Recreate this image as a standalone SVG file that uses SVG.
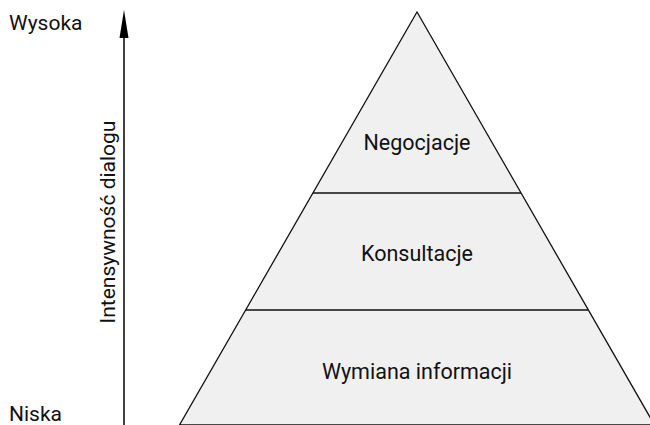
<svg xmlns="http://www.w3.org/2000/svg" width="650" height="425" viewBox="0 0 650 425">
<style>
text{font-family:Roboto,"Liberation Sans",sans-serif;fill:#111;}
.lvl{font-size:21.5px;text-anchor:middle;}
.ax{font-size:21px;}
.edge{stroke:#111;stroke-width:1.3;fill:none;}
</style>
<g id="pyramid">
<polygon points="417,12 179.5,425 654.5,425" fill="#f0f0f0" stroke="#111" stroke-width="1.3"/>
</g>
<g id="connectors">
<line class="edge" x1="313" y1="193" x2="521" y2="193"/>
<line class="edge" x1="246" y1="310" x2="588" y2="310"/>
<path d="M124,425 L124,38" stroke="#000" stroke-width="1.5"/>
<path d="M124,10 L128.5,38 L119.5,38 Z" fill="#000"/>
</g>
<g id="negocjacje"><text class="lvl" x="417" y="150">Negocjacje</text></g>
<g id="konsultacje"><text class="lvl" x="417" y="261">Konsultacje</text></g>
<g id="wymiana"><text class="lvl" x="417" y="379">Wymiana informacji</text></g>
<g id="wysoka"><text class="ax" x="9" y="30">Wysoka</text></g>
<g id="niska"><text class="ax" x="9" y="421">Niska</text></g>
<g id="axis-label"><text class="ax" transform="translate(115,222) rotate(-90)" text-anchor="middle">Intensywność dialogu</text></g>
</svg>
